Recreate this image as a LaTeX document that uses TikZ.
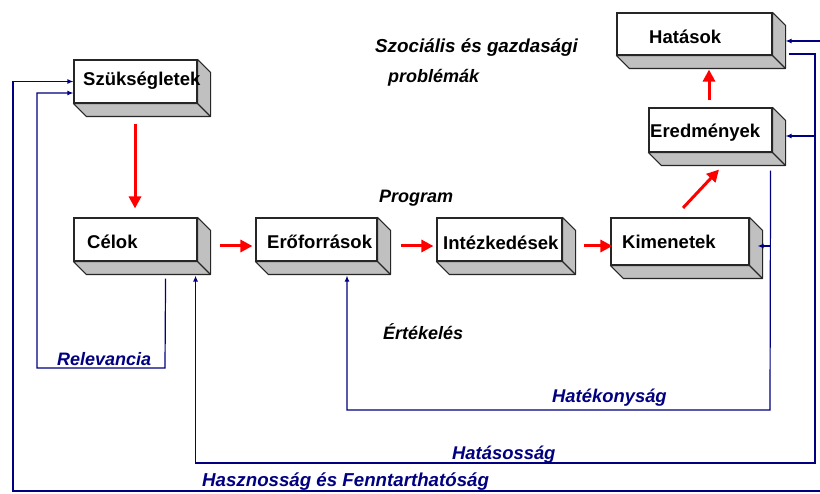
\documentclass[tikz,border=0pt]{standalone}
\usepackage{fontspec}
\setmainfont{Liberation Sans}
\usetikzlibrary{arrows.meta,calc}
\definecolor{fbnavy}{RGB}{0,0,128}
\definecolor{depthgray}{RGB}{192,192,192}
\begin{document}
\begin{tikzpicture}[x=1pt,y=-1pt,
  box/.style={draw=black!85,fill=white,line width=1.1pt,inner sep=0pt,rectangle},
  boxtext/.style={anchor=base west,inner sep=0pt,font=\fontsize{18.5}{20}\selectfont\bfseries},
  blacklab/.style={anchor=base west,inner sep=0pt,font=\fontsize{18}{20}\selectfont\bfseries\itshape},
  navylab/.style={anchor=base west,inner sep=0pt,text=fbnavy,font=\fontsize{18}{20}\selectfont\bfseries\itshape},
  fb/.style={draw=fbnavy,line width=1.2pt,-{Latex[length=6pt,width=5pt]}},
  redarrow/.style={draw=red,line width=3pt,-{Triangle[length=12pt,width=12pt]}}]
\useasboundingbox (0,0) rectangle (820,494);
\fill[white] (0,0) rectangle (820,494);

\newcommand\depthfaces[1]{%
  \filldraw[fill=depthgray,draw=black!85,line width=1.1pt,line join=round]
    (#1.north east) -- ($(#1.north east)+(13,13)$) -- ($(#1.south east)+(13,13)$)
    -- ($(#1.south west)+(13,13)$) -- (#1.south west) -- (#1.south east) -- cycle;
  \draw[black!85,line width=1.1pt] (#1.south east) -- ($(#1.south east)+(13,13)$);}

% boxes
\node[box,minimum width=123pt,minimum height=43pt] (sz) at (135.5,81.5) {};
\node[box,minimum width=123pt,minimum height=43pt] (ce) at (135.5,239.5) {};
\node[box,minimum width=121pt,minimum height=43pt] (er) at (316.5,239.5) {};
\node[box,minimum width=125pt,minimum height=43pt] (in) at (499.5,239.5) {};
\node[box,minimum width=138pt,minimum height=47pt] (ki) at (680,241.5) {};
\node[box,minimum width=155pt,minimum height=42pt] (ha) at (694.5,34) {};
\node[box,minimum width=123pt,minimum height=44pt] (ed) at (710.5,130) {};
\depthfaces{sz}\depthfaces{ce}\depthfaces{er}\depthfaces{in}
\depthfaces{ki}\depthfaces{ha}\depthfaces{ed}

% box texts
\node[boxtext] (tsz) at (83,86) {Szükségletek};
\node[boxtext] (tce) at (87,249) {Célok};
\node[boxtext] (ter) at (267,249) {Erőforrások};
\node[boxtext] (tin) at (443,250) {Intézkedések};
\node[boxtext] (tki) at (622,249) {Kimenetek};
\node[boxtext] (tha) at (649,44) {Hatások};
\node[boxtext] (ted) at (650,138) {Eredmények};

% black italic labels
\node[blacklab,font=\fontsize{18.8}{20}\selectfont\bfseries\itshape] (lsz1) at (375,53) {Szociális és gazdasági};
\node[blacklab] (lsz2) at (388,83) {problémák};
\node[blacklab] (lprog) at (379,203) {Program};
\node[blacklab] (lert) at (383,340) {Értékelés};

% navy labels
\node[navylab] (lrel) at (57,366) {Relevancia};
\node[navylab,font=\fontsize{18.4}{20}\selectfont\bfseries\itshape] (lhek) at (552,403) {Hatékonyság};
\node[navylab,font=\fontsize{18.4}{20}\selectfont\bfseries\itshape] (lhas) at (452,460) {Hatásosság};
\node[navylab,font=\fontsize{18.7}{20}\selectfont\bfseries\itshape] (lhaszn) at (202,486) {Hasznosság és Fenntarthatóság};

% red arrows
\draw[redarrow] ($(sz.south)+(-0.5,20)$) -- ($(ce.north)+(-0.5,-9)$);
\draw[redarrow] ($(ce.east)+(22,6.5)$) -- ($(er.west)+(-3,6.5)$);
\draw[redarrow] ($(er.east)+(23,6.5)$) -- ($(in.west)+(-3,6.5)$);
\draw[redarrow] ($(in.east)+(21,6.5)$) -- ($(ki.west)+(2,4.5)$);
\draw[redarrow] ($(ki.north)+(3,-9.5)$) -- ($(ed.south)+(8.5,17)$);
\draw[redarrow] ($(ed.north)+(-1.5,-7)$) -- ($(ha.south)+(14.5,14)$);

% feedback loops
\coordinate (hzE) at (822,491);
\coordinate (haE) at (822,41);
\coordinate (j1) at (815,136);
\coordinate (j2) at (770,246);
% Hasznossag es Fenntarthatosag
\draw[fb] (hzE) -- (13,491) |- (sz.west);
\draw[fb] (haE) -- ($(ha.east)+(13,7)$);
% Hatasossag
\draw[fb] ($(ha.east)+(16,20)$) -| (815,463) -| ($(ce.south east)+(-2,14)$);
\draw[fb] (j1) -- ($(ed.east)+(13,6)$);
% Hatekonysag
\draw[fb] ($(ed.south east)+(-2,18)$) -- (770,410) -| ($(er.south)+(30.5,14)$);
\draw[fb] (j2) -- ($(ki.east)+(8,4.5)$);
% Relevancia
\draw[fb] ($(ce.south east)+(-32,17)$) -- (165,368) -| (37,93) -- ($(sz.west)+(0,11.5)$);
\end{tikzpicture}
\end{document}
